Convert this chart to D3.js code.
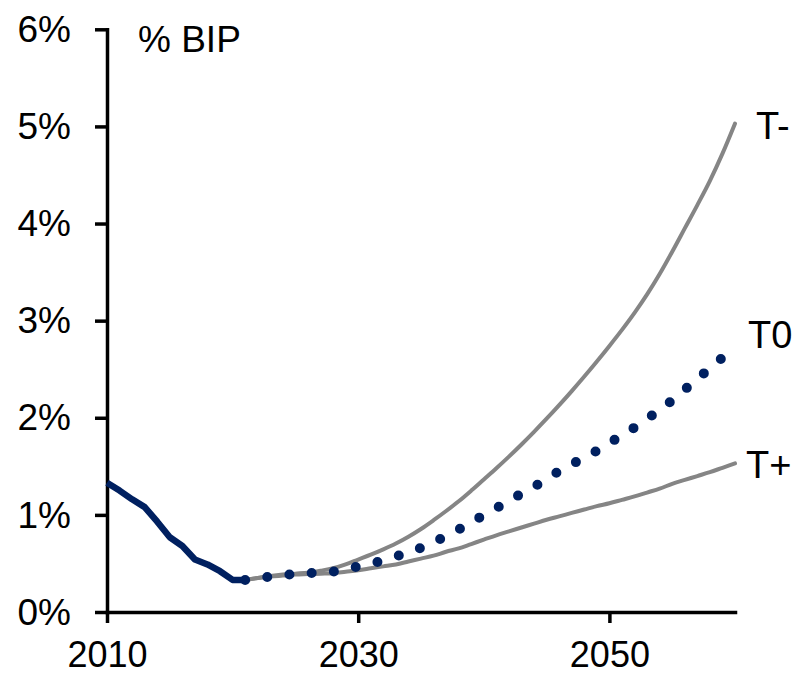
<!DOCTYPE html>
<html>
<head>
<meta charset="utf-8">
<script src="https://cdn.jsdelivr.net/npm/d3@7"></script>
<style>
  html, body { margin: 0; padding: 0; background: #fff; }
  svg { display: block; }
  text { font-family: "Liberation Sans", Arial, sans-serif; fill: #000; }
</style>
</head>
<body>
<svg id="chart" width="798" height="675"></svg>
<script>
// ---- Data (values in % of GDP) ----
const histYears = [2010, 2011, 2012, 2013, 2014, 2015, 2016, 2017, 2018, 2019, 2020, 2021];
const histValues = [1.33, 1.25, 1.16, 1.08, 0.93, 0.77, 0.68, 0.54, 0.49, 0.42, 0.33, 0.33];

const projYears = [2021, 2022, 2023, 2024, 2025, 2026, 2027, 2028, 2029, 2030,
                   2031, 2032, 2033, 2034, 2035, 2036, 2037, 2038, 2039, 2040,
                   2041, 2042, 2043, 2044, 2045, 2046, 2047, 2048, 2049, 2050,
                   2051, 2052, 2053, 2054, 2055, 2056, 2057, 2058, 2059, 2060];

const tMinus = [0.33, 0.35, 0.37, 0.385, 0.395, 0.405, 0.425, 0.45, 0.49, 0.54,
                0.59, 0.645, 0.705, 0.775, 0.855, 0.945, 1.04, 1.14, 1.25, 1.365,
                1.48, 1.60, 1.725, 1.855, 1.99, 2.13, 2.275, 2.425, 2.58, 2.74,
                2.905, 3.08, 3.27, 3.48, 3.71, 3.95, 4.19, 4.44, 4.72, 5.03];

const tZero = [0.33, 0.345, 0.365, 0.38, 0.39, 0.40, 0.405, 0.415, 0.44, 0.47,
               0.50, 0.53, 0.57, 0.62, 0.66, 0.72, 0.78, 0.85, 0.92, 1.00,
               1.07, 1.14, 1.22, 1.29, 1.37, 1.45, 1.52, 1.59, 1.66, 1.74,
               1.82, 1.90, 1.99, 2.08, 2.18, 2.29, 2.40, 2.51, 2.62, 2.73];

const tPlus = [0.33, 0.35, 0.365, 0.375, 0.385, 0.39, 0.395, 0.40, 0.415, 0.43,
               0.45, 0.47, 0.49, 0.52, 0.55, 0.58, 0.62, 0.655, 0.70, 0.745,
               0.79, 0.83, 0.87, 0.91, 0.95, 0.985, 1.02, 1.055, 1.09, 1.12,
               1.155, 1.19, 1.23, 1.27, 1.32, 1.36, 1.40, 1.44, 1.485, 1.53];

const yTicks = [0, 1, 2, 3, 4, 5, 6];
const xTicks = [2010, 2030, 2050];
const seriesLabels = ["T-", "T0", "T+"];
const unitLabel = "% BIP";

// ---- Layout ----
const svg = d3.select("#chart");
const x = d3.scaleLinear().domain([2010, 2060]).range([107, 735]);
const y = d3.scaleLinear().domain([0, 6]).range([612, 29.3]);

const navy = "#002060";
const gray = "#858585";

// ---- Axes ----
const yAxis = d3.axisLeft(y).tickValues(yTicks).tickSize(12).tickSizeOuter(0)
  .tickFormat(d => d + "%");
const gy = svg.append("g").attr("transform", `translate(${x(2010)},0)`).call(yAxis);
gy.select(".domain").attr("stroke", "#000").attr("stroke-width", 3.5);
gy.selectAll(".tick line").attr("stroke", "#000").attr("stroke-width", 3.5);
gy.selectAll(".tick text")
  .attr("x", -36).attr("dy", "0.33em")
  .style("font-size", "37px")
  .style("font-family", "'Liberation Sans', Arial, sans-serif");

const xAxis = d3.axisBottom(x).tickValues(xTicks).tickSize(11).tickSizeOuter(0)
  .tickFormat(d3.format("d"));
const gx = svg.append("g").attr("transform", `translate(0,${y(0)})`).call(xAxis);
gx.select(".domain").attr("stroke", "#000").attr("stroke-width", 3.5);
gx.selectAll(".tick line").attr("stroke", "#000").attr("stroke-width", 3.5);
gx.selectAll(".tick text")
  .attr("y", 55).attr("dy", 0)
  .style("font-size", "36px")
  .style("font-family", "'Liberation Sans', Arial, sans-serif");
svg.selectAll(".domain").attr("stroke-linecap", "square");

// ---- Lines ----
const projLine = d3.line().x((d, i) => x(projYears[i])).y(d => y(d)).curve(d3.curveMonotoneX);

svg.append("path").datum(tMinus).attr("d", projLine)
  .attr("fill", "none").attr("stroke", gray).attr("stroke-width", 4)
  .attr("stroke-linecap", "round");
svg.append("path").datum(tPlus).attr("d", projLine)
  .attr("fill", "none").attr("stroke", gray).attr("stroke-width", 4)
  .attr("stroke-linecap", "round");
svg.append("path").datum(tZero).attr("d", projLine)
  .attr("fill", "none").attr("stroke", navy).attr("stroke-width", 10)
  .attr("stroke-linecap", "round").attr("stroke-dasharray", "0 22.3");

const histLine = d3.line().x((d, i) => x(histYears[i])).y(d => y(d));
svg.append("path").datum(histValues).attr("d", histLine)
  .attr("fill", "none").attr("stroke", navy).attr("stroke-width", 6.5)
  .attr("stroke-linejoin", "round");

// ---- Labels ----
svg.append("text").attr("x", 138).attr("y", 52)
  .style("font-size", "37px").text(unitLabel);

const labelPos = [
  { v: tMinus[tMinus.length - 1], dx: 21, dy: 15 },
  { v: tZero[tZero.length - 1], dx: 13, dy: 1 },
  { v: tPlus[tPlus.length - 1], dx: 11, dy: 15 }
];
seriesLabels.forEach((lab, i) => {
  svg.append("text")
    .attr("x", x(2060) + labelPos[i].dx)
    .attr("y", y(labelPos[i].v) + labelPos[i].dy)
    .style("font-size", "38px")
    .text(lab);
});
</script>
</body>
</html>
